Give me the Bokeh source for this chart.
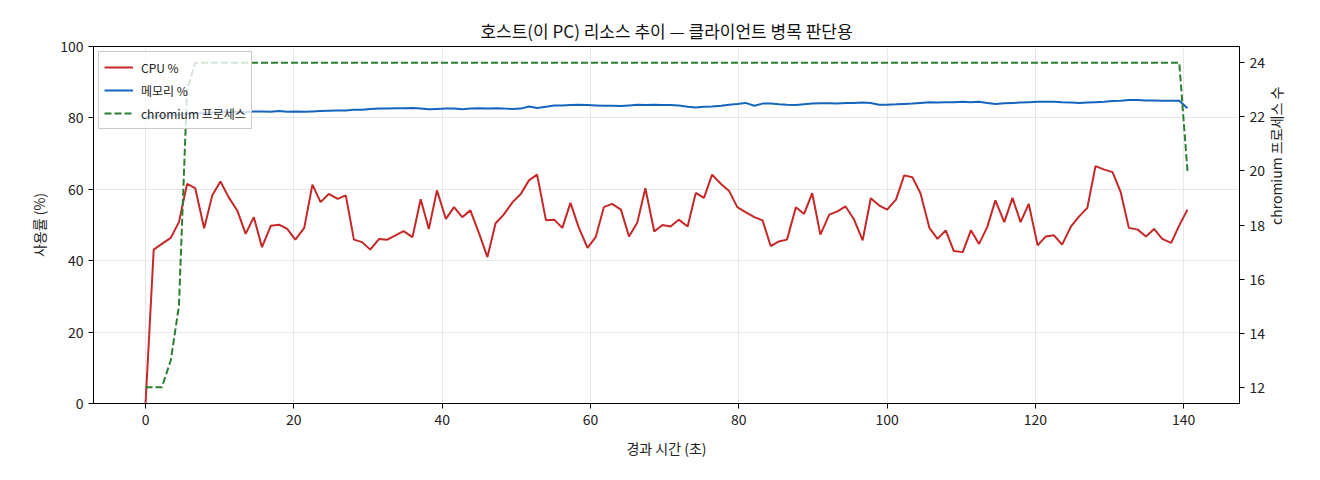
import math

from bokeh.embed import file_html
from bokeh.models import FixedTicker, LinearAxis, Range1d
from bokeh.plotting import figure
from bokeh.resources import INLINE

# elapsed time in seconds (one sample per ~1.1 s)
elapsed_s = [
    0.0, 1.1, 2.2, 3.4, 4.5, 5.6, 6.7, 7.9, 9.0, 10.1,
    11.2, 12.4, 13.5, 14.6, 15.7, 16.9, 18.0, 19.1, 20.2, 21.4,
    22.5, 23.6, 24.7, 25.9, 27.0, 28.1, 29.2, 30.3, 31.5, 32.6,
    33.7, 34.8, 36.0, 37.1, 38.2, 39.3, 40.5, 41.6, 42.7, 43.8,
    45.0, 46.1, 47.2, 48.3, 49.5, 50.6, 51.7, 52.8, 54.0, 55.1,
    56.2, 57.3, 58.4, 59.6, 60.7, 61.8, 62.9, 64.1, 65.2, 66.3,
    67.4, 68.6, 69.7, 70.8, 71.9, 73.1, 74.2, 75.3, 76.4, 77.6,
    78.7, 79.8, 80.9, 82.1, 83.2, 84.3, 85.4, 86.5, 87.7, 88.8,
    89.9, 91.0, 92.2, 93.3, 94.4, 95.5, 96.7, 97.8, 98.9, 100.0,
    101.2, 102.3, 103.4, 104.5, 105.7, 106.8, 107.9, 109.0, 110.2, 111.3,
    112.4, 113.5, 114.6, 115.8, 116.9, 118.0, 119.1, 120.3, 121.4, 122.5,
    123.6, 124.8, 125.9, 127.0, 128.1, 129.3, 130.4, 131.5, 132.6, 133.8,
    134.9, 136.0, 137.1, 138.3, 139.4, 140.5,
]

cpu_pct = [
    0.0, 43.1, 44.7, 46.4, 50.8, 61.5, 60.3, 49.1, 58.3, 62.2,
    57.8, 53.9, 47.5, 52.2, 43.8, 49.8, 50.1, 48.9, 45.9, 49.2,
    61.3, 56.4, 58.7, 57.3, 58.3, 45.9, 45.2, 43.1, 46.1, 45.9,
    47.1, 48.3, 46.6, 57.2, 48.9, 59.7, 51.7, 55.0, 52.2, 54.1,
    47.5, 41.0, 50.5, 52.9, 56.4, 58.7, 62.5, 64.1, 51.3, 51.5,
    49.2, 56.2, 49.4, 43.6, 46.6, 55.0, 55.9, 54.3, 46.8, 50.6,
    60.3, 48.2, 50.0, 49.6, 51.5, 49.6, 59.0, 57.6, 64.1, 61.5,
    59.5, 55.0, 53.6, 52.2, 51.3, 44.1, 45.4, 45.9, 55.0, 53.1,
    58.9, 47.3, 52.9, 53.8, 55.2, 51.7, 45.7, 57.5, 55.5, 54.3,
    57.1, 63.9, 63.4, 58.9, 49.2, 46.1, 48.5, 42.7, 42.4, 48.5,
    44.7, 49.4, 56.9, 50.8, 57.6, 50.8, 55.9, 44.3, 46.8, 47.1,
    44.5, 49.6, 52.4, 54.8, 66.5, 65.5, 64.8, 59.2, 49.2, 48.7,
    46.8, 48.9, 46.1, 45.0, 49.9, 54.3,
]

mem_pct = [
    80.2, 80.4, 80.6, 80.7, 80.9, 81.1, 81.2, 81.4, 81.5, 81.6,
    81.6, 81.7, 81.6, 81.8, 81.8, 81.7, 81.9, 81.7, 81.8, 81.7,
    81.8, 81.9, 82.0, 82.1, 82.1, 82.3, 82.3, 82.5, 82.6, 82.6,
    82.7, 82.7, 82.8, 82.6, 82.4, 82.5, 82.6, 82.6, 82.4, 82.6,
    82.7, 82.6, 82.7, 82.6, 82.5, 82.6, 83.2, 82.8, 83.1, 83.5,
    83.5, 83.6, 83.7, 83.6, 83.5, 83.4, 83.4, 83.3, 83.5, 83.7,
    83.6, 83.7, 83.6, 83.6, 83.5, 83.1, 82.9, 83.1, 83.2, 83.4,
    83.7, 83.9, 84.2, 83.4, 84.0, 84.0, 83.8, 83.7, 83.6, 83.8,
    84.0, 84.1, 84.1, 84.0, 84.2, 84.2, 84.3, 84.2, 83.7, 83.7,
    83.8, 83.9, 84.0, 84.2, 84.4, 84.3, 84.4, 84.4, 84.5, 84.4,
    84.5, 84.2, 83.9, 84.1, 84.2, 84.3, 84.4, 84.5, 84.5, 84.5,
    84.4, 84.3, 84.2, 84.3, 84.4, 84.5, 84.7, 84.8, 85.0, 85.0,
    84.9, 84.9, 84.8, 84.8, 84.8, 82.7,
]

chromium_procs = [
    12, 12, 12, 13, 15, 23, 24, 24, 24, 24,
    24, 24, 24, 24, 24, 24, 24, 24, 24, 24,
    24, 24, 24, 24, 24, 24, 24, 24, 24, 24,
    24, 24, 24, 24, 24, 24, 24, 24, 24, 24,
    24, 24, 24, 24, 24, 24, 24, 24, 24, 24,
    24, 24, 24, 24, 24, 24, 24, 24, 24, 24,
    24, 24, 24, 24, 24, 24, 24, 24, 24, 24,
    24, 24, 24, 24, 24, 24, 24, 24, 24, 24,
    24, 24, 24, 24, 24, 24, 24, 24, 24, 24,
    24, 24, 24, 24, 24, 24, 24, 24, 24, 24,
    24, 24, 24, 24, 24, 24, 24, 24, 24, 24,
    24, 24, 24, 24, 24, 24, 24, 24, 24, 24,
    24, 24, 24, 24, 24, 20,
]

x_ticks = [0, 20, 40, 60, 80, 100, 120, 140]
y_ticks = [0, 20, 40, 60, 80, 100]
proc_ticks = [12, 14, 16, 18, 20, 22, 24]

FONT = "Noto Sans CJK KR"

p = figure(
    width=1312,
    height=472,
    title="호스트(이 PC) 리소스 추이 — 클라이언트 병목 판단용",
    x_range=Range1d(-7.02, 147.52),
    y_range=Range1d(0, 100),
    x_axis_label="경과 시간 (초)",
    y_axis_label="사용률 (%)",
    output_backend="svg",
    toolbar_location=None,
    min_border_left=93,
    min_border_right=73,
    min_border_top=46,
    min_border_bottom=69,
)
p.extra_y_ranges = {"procs": Range1d(11.4, 24.6)}

# title
p.title.align = "center"
p.title.text_font = FONT
p.title.text_font_size = "17px"
p.title.text_font_style = "normal"
p.title.text_color = "#111111"
p.title.standoff = 8

# frame like matplotlib
p.outline_line_color = "black"
p.outline_line_width = 1
p.outline_line_alpha = 1

p.xgrid.ticker = FixedTicker(ticks=x_ticks)
p.ygrid.ticker = FixedTicker(ticks=y_ticks)
p.grid.grid_line_color = "#b0b0b0"
p.grid.grid_line_alpha = 0.3
p.grid.grid_line_width = 1

p.xaxis.ticker = FixedTicker(ticks=x_ticks)
p.yaxis.ticker = FixedTicker(ticks=y_ticks)

# chromium process count on the right
right_axis = LinearAxis(
    y_range_name="procs",
    axis_label="chromium 프로세스 수",
    ticker=FixedTicker(ticks=proc_ticks),
)
if "axis_label_orientation" in LinearAxis.properties():
    right_axis.axis_label_orientation = math.pi / 2
p.add_layout(right_axis, "right")

for ax in p.xaxis + p.yaxis:
    ax.axis_line_color = "black"
    ax.major_tick_line_color = "black"
    ax.major_tick_in = 0
    ax.major_tick_out = 5
    ax.minor_tick_line_color = None
    ax.major_label_text_font = FONT
    ax.major_label_text_font_size = "14px"
    ax.major_label_text_color = "#222222"
    ax.major_label_standoff = 5
    ax.axis_label_text_font = FONT
    ax.axis_label_text_font_size = "14px"
    ax.axis_label_text_font_style = "normal"
    ax.axis_label_text_color = "#222222"
    ax.axis_label_standoff = 8

p.xaxis.axis_label_standoff = 10

p.line(elapsed_s, cpu_pct, line_width=2, color="#c62828", legend_label="CPU %")
p.line(elapsed_s, mem_pct, line_width=2, color="#1565c0", legend_label="메모리 %")
p.line(
    elapsed_s,
    chromium_procs,
    y_range_name="procs",
    line_width=2,
    line_dash="7 3",
    color="#2e7d32",
    legend_label="chromium 프로세스",
)

p.legend.location = "top_left"
p.legend.label_text_font = FONT
p.legend.label_text_font_size = "12px"
p.legend.label_text_color = "#222222"
p.legend.background_fill_alpha = 0.8
p.legend.border_line_color = "#cccccc"
p.legend.border_line_alpha = 1
p.legend.glyph_width = 29
p.legend.glyph_height = 20
p.legend.label_height = 20
p.legend.spacing = 3
p.legend.padding = 5
p.legend.margin = 5
p.legend.label_standoff = 8

open("out.html", "w").write(file_html(p, INLINE))
